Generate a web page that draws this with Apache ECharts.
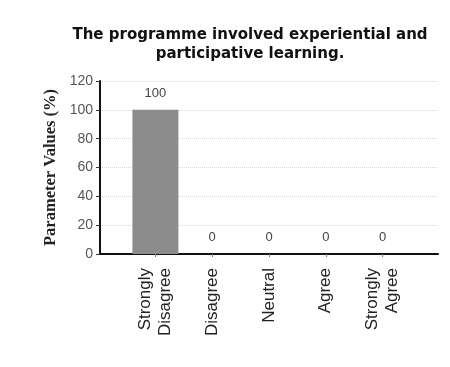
<!DOCTYPE html>
<html>
<head>
<meta charset="utf-8">
<script src="https://cdn.jsdelivr.net/npm/echarts@6/dist/echarts.min.js"></script>
<style>
  html, body { margin: 0; padding: 0; background: #fff; }
  #chart { width: 450px; height: 367px; }
</style>
</head>
<body>
<div id="chart"></div>
<script>
// Response categories and share of respondents (%)
const categories = ['Strongly\nDisagree', 'Disagree', 'Neutral', 'Agree', 'Strongly\nAgree'];
const values = [100, 0, 0, 0, 0];
const yTicks = [0, 20, 40, 60, 80, 100, 120];

const yMin = yTicks[0];
const yMax = yTicks[yTicks.length - 1];
const yStep = yTicks[1] - yTicks[0];

const chart = echarts.init(document.getElementById('chart'));

chart.setOption({
  backgroundColor: '#ffffff',
  animation: false,
  title: {
    text: 'The programme involved experiential and\nparticipative learning.',
    left: 245,
    top: 21,
    textAlign: 'center',
    textStyle: {
      fontFamily: 'DejaVu Sans',
      fontWeight: 'bold',
      fontSize: 15,
      lineHeight: 19,
      color: '#111'
    }
  },
  grid: [
    // frame: axis lines, y labels and gridlines
    { left: 100, right: 12, top: 81, bottom: 113 },
    // bars
    { left: 127, right: 39, top: 81, bottom: 113 }
  ],
  xAxis: [
    {
      gridIndex: 0,
      type: 'category',
      data: [''],
      axisLine: { show: true, lineStyle: { color: '#111', width: 2 } },
      axisTick: { show: false },
      axisLabel: { show: false },
      splitLine: { show: false }
    },
    {
      gridIndex: 1,
      type: 'category',
      data: categories,
      axisLine: { show: false },
      axisTick: { show: true, alignWithLabel: true, length: 3, lineStyle: { color: '#777' } },
      axisLabel: {
        rotate: 90,
        interval: 0,
        margin: 14,
        fontFamily: 'Liberation Sans',
        fontSize: 17,
        lineHeight: 20,
        color: '#222'
      }
    }
  ],
  yAxis: [
    {
      gridIndex: 0,
      type: 'value',
      min: yMin,
      max: yMax,
      interval: yStep,
      name: 'Parameter Values (%)',
      nameLocation: 'middle',
      nameGap: 41,
      nameTextStyle: {
        fontFamily: 'Liberation Serif',
        fontWeight: 'bold',
        fontSize: 16.5,
        color: '#222'
      },
      axisLine: { show: true, lineStyle: { color: '#111', width: 2 } },
      axisTick: { show: true, length: 4, lineStyle: { color: '#333' } },
      axisLabel: {
        margin: 7,
        fontFamily: 'Liberation Sans',
        fontSize: 14,
        color: '#555'
      },
      splitLine: { show: true, lineStyle: { color: '#d8d8d8', type: 'dotted' } }
    },
    {
      gridIndex: 1,
      type: 'value',
      min: yMin,
      max: yMax,
      interval: yStep,
      show: false,
      splitLine: { show: false }
    }
  ],
  series: [
    {
      type: 'bar',
      xAxisIndex: 1,
      yAxisIndex: 1,
      data: values,
      barWidth: 46,
      itemStyle: { color: '#8c8c8c' },
      label: {
        show: true,
        position: 'top',
        distance: 10,
        fontFamily: 'Liberation Sans',
        fontSize: 13,
        color: '#444'
      }
    }
  ]
});
</script>
</body>
</html>
